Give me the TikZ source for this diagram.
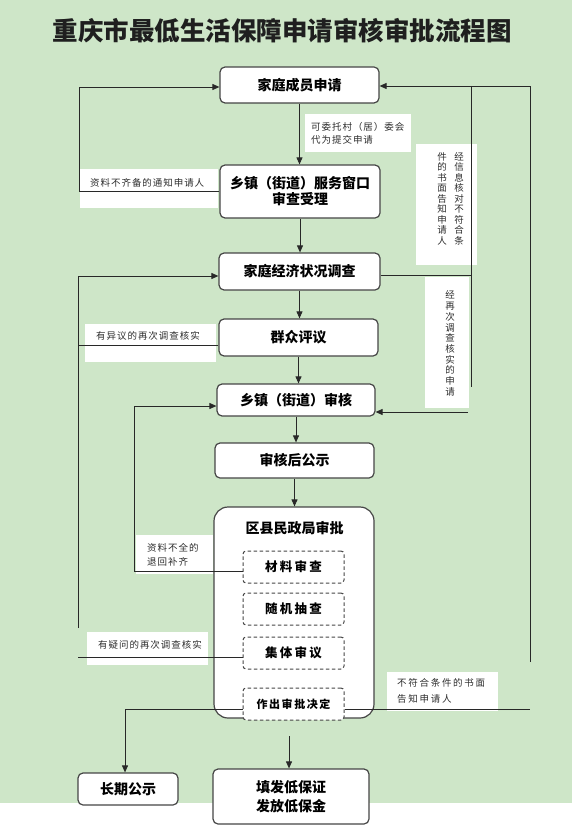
\documentclass[tikz,border=0pt]{standalone}
\usepackage{fontspec}
\usetikzlibrary{arrows.meta}
\newfontfamily\cjk{Noto Sans CJK SC}
\definecolor{bg}{RGB}{206,230,200}
\definecolor{ln}{RGB}{40,40,40}
\definecolor{bd}{RGB}{70,70,70}
\definecolor{lt}{RGB}{45,45,45}
\begin{document}
\begin{tikzpicture}[x=1pt,y=-1pt,
 box/.style={draw=bd, line width=1.2pt, rounded corners=5pt, fill=white, align=center, inner sep=0pt, font=\cjk\bfseries\fontsize{14}{16}\selectfont},
 dbox/.style={draw=bd, line width=1pt, dash pattern=on 3.5pt off 2.5pt, rounded corners=3pt, fill=white, inner sep=0pt, minimum width=101pt, minimum height=32pt, font=\cjk\bfseries\fontsize{12.5}{15}\selectfont\addfontfeature{LetterSpace=18}},
 wbox/.style={fill=white, inner sep=0pt},
 lbl/.style={inner sep=0pt, text=lt, align=left, font=\cjk\fontsize{9.5}{13}\selectfont\addfontfeature{LetterSpace=10}},
 vlbl/.style={inner sep=0pt, text=lt, align=center, font=\cjk\fontsize{9.5}{10.5}\selectfont},
 conn/.style={draw=ln, line width=0.9pt},
 arr/.style={conn, -{Triangle[length=7pt,width=6pt]}},
]
\useasboundingbox (0,0) rectangle (572,829);
\fill[bg] (0,0) rectangle (572,803);
\fill[white] (0,803) rectangle (572,829);

% title
\node[inner sep=0pt, font=\cjk\bfseries\fontsize{25.5}{30}\selectfont, text=black!88] (title) at (282,31) {重庆市最低生活保障申请审核审批流程图};

% white label boxes
\node[wbox, minimum width=106pt, minimum height=38pt] (w1) at (358,133) {};
\node[wbox, minimum width=138pt, minimum height=39pt] (w2) at (149,188.5) {};
\node[wbox, minimum width=131pt, minimum height=38pt] (w3) at (150.5,343) {};
\node[wbox, minimum width=77pt, minimum height=39pt] (w4) at (174.5,554.5) {};
\node[wbox, minimum width=121pt, minimum height=33pt] (w5) at (147.5,648.5) {};
\node[wbox, minimum width=111pt, minimum height=39pt] (w6) at (442.5,691.5) {};
\node[wbox, minimum width=61pt, minimum height=121pt] (wv1) at (446.5,204.5) {};
\node[wbox, minimum width=44pt, minimum height=131pt] (wv2) at (447,342.5) {};

% main boxes
\node[box, minimum width=159pt, minimum height=36pt] (n1) at (299.5,85) {家庭成员申请};
\node[box, minimum width=160pt, minimum height=53pt] (n2) at (300,191.5) {乡镇（街道）服务窗口\\审查受理};
\node[box, minimum width=161pt, minimum height=37pt] (n3) at (299.5,271.5) {家庭经济状况调查};
\node[box, minimum width=159pt, minimum height=37pt] (n4) at (298.5,337.5) {群众评议};
\node[box, minimum width=158pt, minimum height=32pt] (n5) at (296,400) {乡镇（街道）审核};
\node[box, minimum width=159pt, minimum height=35pt] (n6) at (294.5,460.5) {审核后公示};
\node[box, rounded corners=14pt, minimum width=160pt, minimum height=211pt] (n7) at (294,612.5) {};
\node[inner sep=0pt, font=\cjk\bfseries\fontsize{14}{16}\selectfont] (t7) at (294.5,528) {区县民政局审批};
\node[dbox] (d1) at (293.5,567) {材料审查};
\node[dbox] (d2) at (293.5,609) {随机抽查};
\node[dbox] (d3) at (293.5,653) {集体审议};
\node[dbox, font=\cjk\bfseries\fontsize{11}{13}\selectfont\addfontfeature{LetterSpace=14}] (d4) at (293.5,704) {作出审批决定};
\node[box, minimum width=100pt, minimum height=32pt] (n8) at (128,789) {长期公示};
\node[box, minimum width=156pt, minimum height=55pt, font=\cjk\bfseries\fontsize{14}{19}\selectfont] (n9) at (291,796.5) {填发低保证\\发放低保金};

% coordinates
\coordinate (a1) at (79,87);
\coordinate (a2) at (79,345);
\coordinate (a3) at (78,657);
\coordinate (a4) at (78,628);
\coordinate (a5) at (78,276);
\coordinate (a6) at (134,571);
\coordinate (a7) at (134,406);
\coordinate (a8) at (125,709);
\coordinate (a9) at (530,709);
\coordinate (a10) at (530,662);
\coordinate (a11) at (530,86);
\coordinate (a12) at (471,275);
\coordinate (a13) at (471,86);
\coordinate (a14) at (471,387);
\coordinate (a15) at (468,412);
\coordinate (c9) at (289,736);

% main flow
\draw[arr] (n1.south) -- (n1.south |- n2.north);
\draw[arr] (n2.south) -- (n2.south |- n3.north);
\draw[arr] (n3.south) -- (n3.south |- n4.north);
\draw[arr] (n4.south) -- (n4.south |- n5.north);
\draw[arr] (n5.south) -- (n5.south |- n6.north);
\draw[arr] (n6.south) -- (n6.south |- n7.north);
\draw[arr] (c9) -- (c9 |- n9.north);

% left loops
\draw[arr] (n2.west) -| (a1) -- (a1 -| n1.west);
\draw[conn] (n4.west |- a2) -- (a2);
\draw[conn] (d3.west |- a3) -- (a3);
\draw[arr] (a4) -- (a5) -- (a5 -| n3.west);
\draw[arr] (d1.west |- a6) -- (a6) -- (a7) -- (a7 -| n5.west);
\draw[arr] (d4.west |- a8) -- (a8) -- (a8 |- n8.north);

% right loops
\draw[conn] (d4.east |- a9) -- (a9);
\draw[arr] (a10) -- (a11) -- (a11 -| n1.east);
\draw[conn] (n3.east |- a12) -- (a12);
\draw[conn] (a13) -- (a14);
\draw[arr] (a15) -- (a15 -| n5.east);

% labels
\node[lbl, anchor=west] (t1) at (311,133.5) {可委托村（居）委会\\代为提交申请};
\node[lbl, anchor=west] (t2) at (90,183) {资料不齐备的通知申请人};
\node[lbl, anchor=west] (t3) at (96,336) {有异议的再次调查核实};
\node[lbl, anchor=west, font=\cjk\fontsize{9.5}{14}\selectfont\addfontfeature{LetterSpace=10}] (t4) at (147,555) {资料不全的\\退回补齐};
\node[lbl, anchor=west] (t5) at (98,645) {有疑问的再次调查核实};
\node[lbl, anchor=west, font=\cjk\fontsize{9.5}{16}\selectfont\addfontfeature{LetterSpace=18}] (t6) at (397,691) {不符合条件的书面\\告知申请人};
\node[vlbl] (v1a) at (459,198.5) {经\\信\\息\\核\\对\\不\\符\\合\\条};
\node[vlbl] (v1b) at (442,198.5) {件\\的\\书\\面\\告\\知\\申\\请\\人};
\node[vlbl, font=\cjk\fontsize{9.5}{10.7}\selectfont] (v2) at (450,343.5) {经\\再\\次\\调\\查\\核\\实\\的\\申\\请};
\end{tikzpicture}
\end{document}
